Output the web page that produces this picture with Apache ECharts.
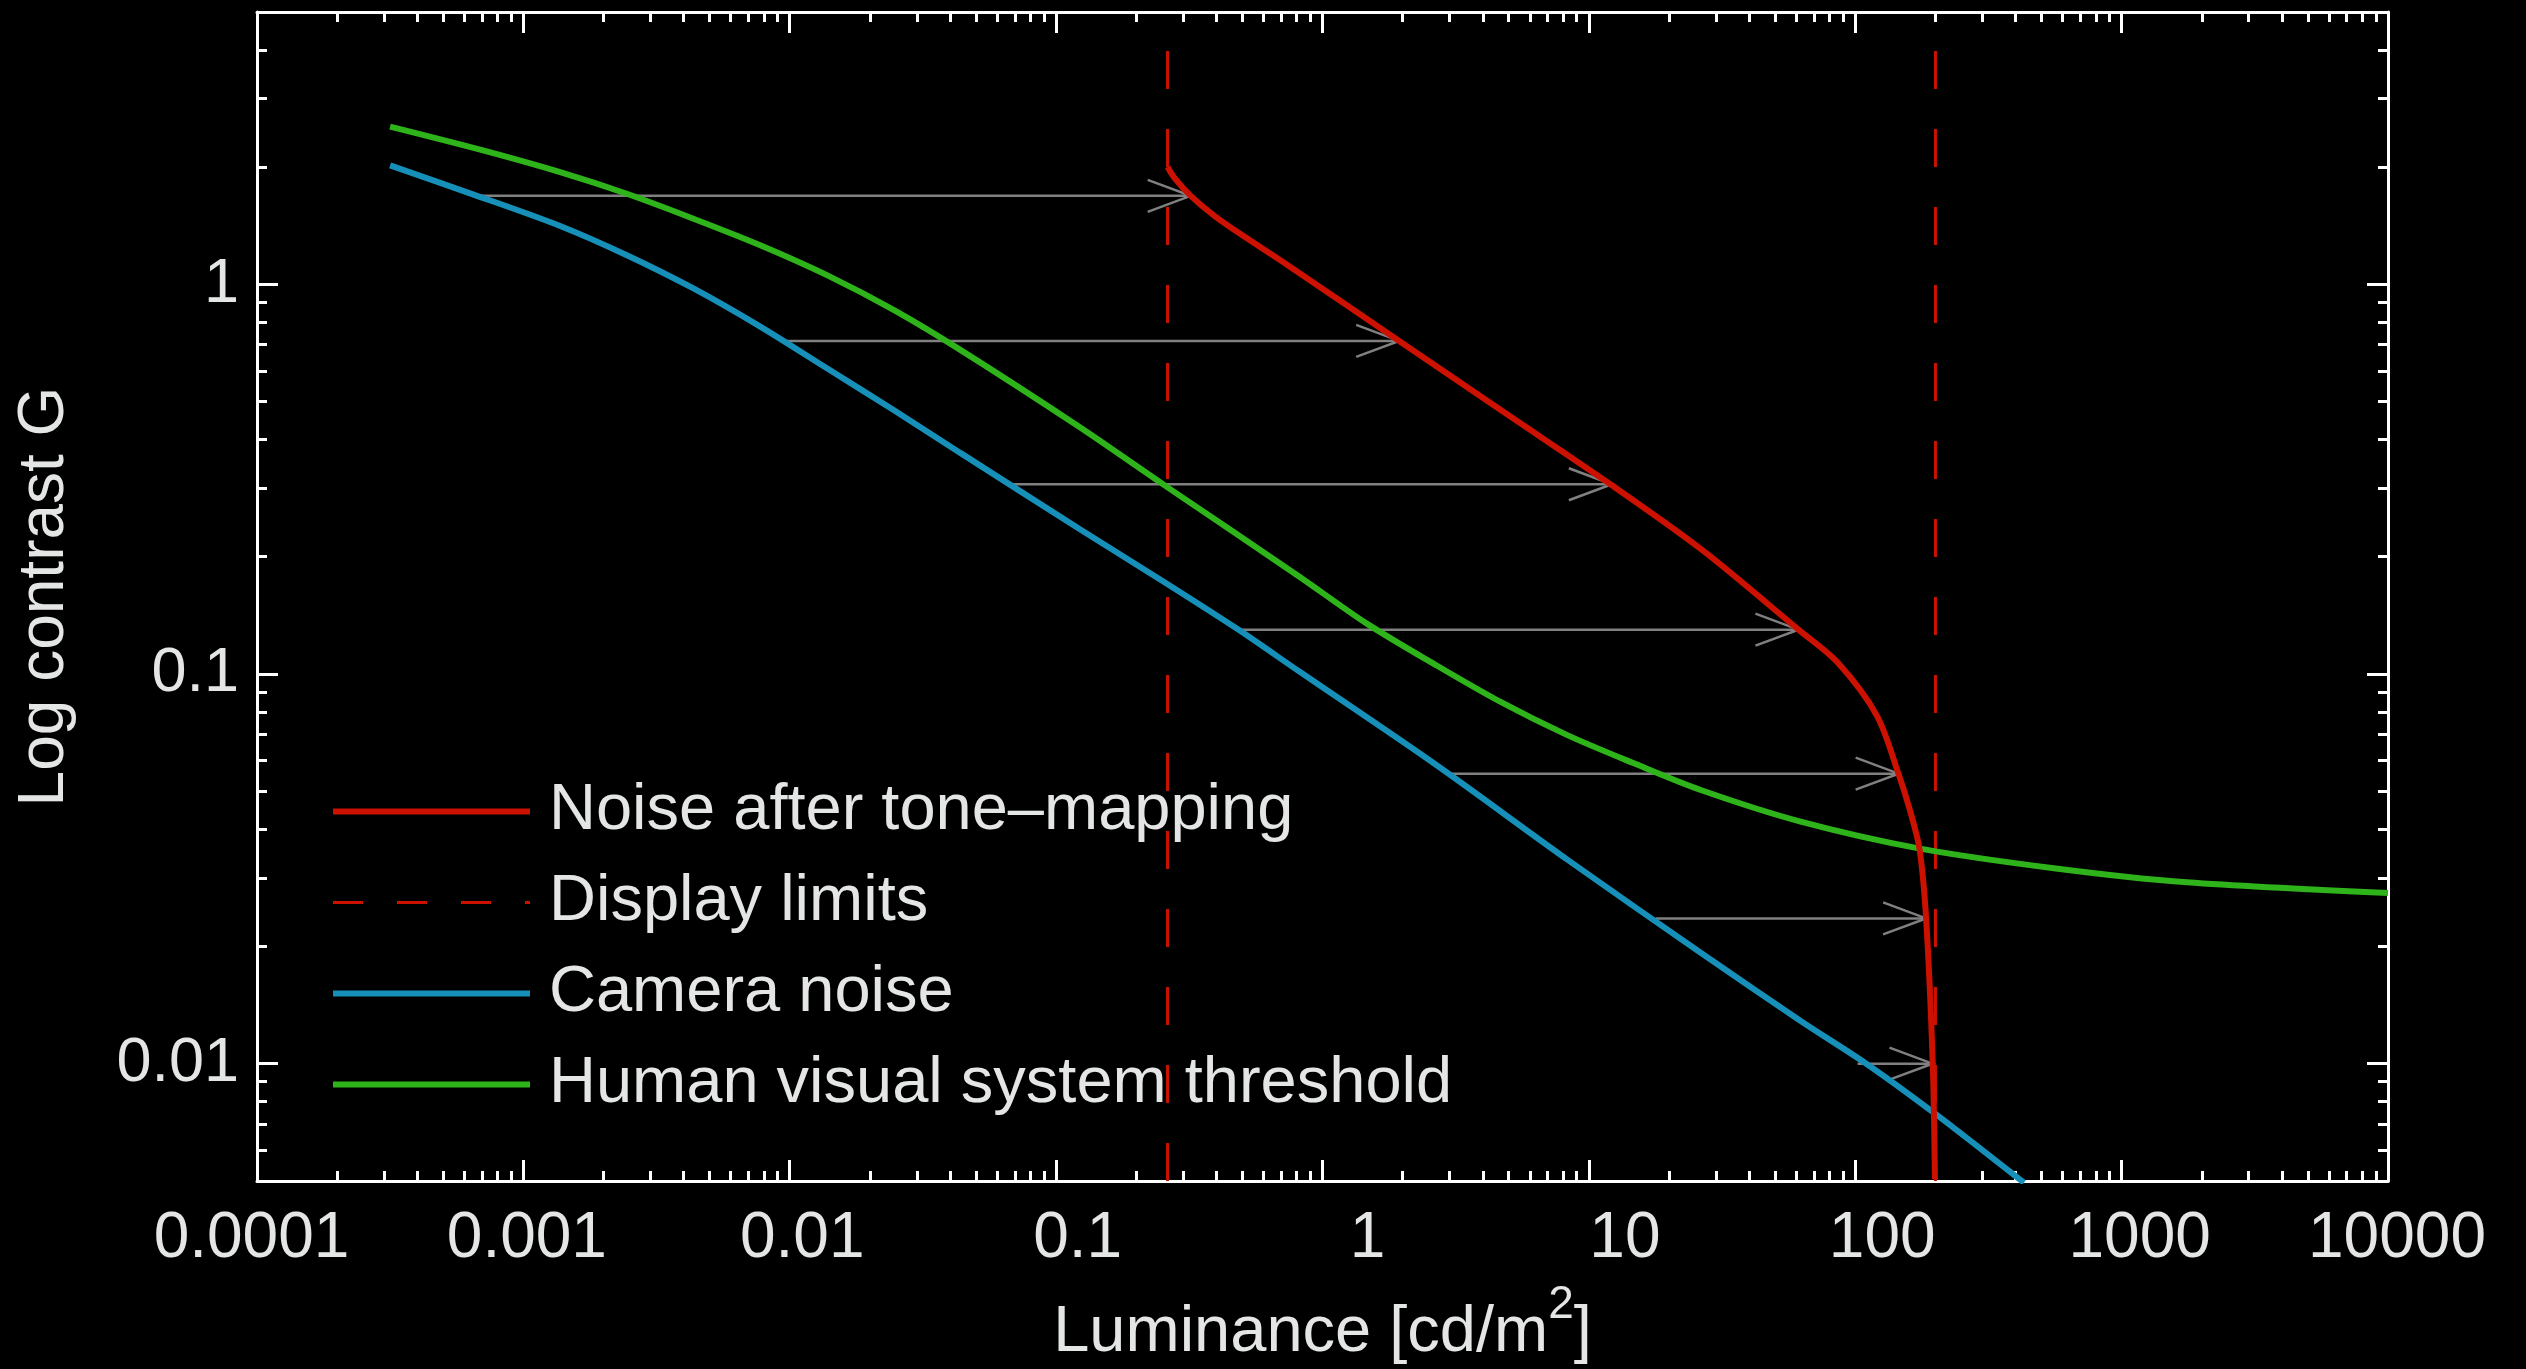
<!DOCTYPE html>
<html>
<head>
<meta charset="utf-8">
<script src="https://cdn.jsdelivr.net/npm/echarts@6.0.0/dist/echarts.min.js"></script>
<style>
html,body{margin:0;padding:0;background:#000;}
#chart{width:2526px;height:1369px;}
</style>
</head>
<body>
<div id="chart"></div>
<script>
// ---------- data ----------
const xTickValues = [0.0001, 0.001, 0.01, 0.1, 1, 10, 100, 1000, 10000];
const xTickLabels = ['0.0001', '0.001', '0.01', '0.1', '1', '10', '100', '1000', '10000'];
const yTickValues = [0.01, 0.1, 1];
const yTickLabels = ['0.01', '0.1', '1'];

const seriesNames = ['Noise after tone\u2013mapping', 'Display limits', 'Camera noise', 'Human visual system threshold'];

const displayLimits = [0.262, 200];

// [luminance, contrast]
const cameraNoise = [
  [3.16e-4, 2.02], [6.5e-4, 1.70], [1.374e-3, 1.412], [2.446e-3, 1.188], [4.35e-3, 0.976],
  [7.75e-3, 0.779], [0.01379, 0.609], [0.02454, 0.476], [0.04369, 0.3694], [0.122, 0.236],
  [0.257, 0.1715], [0.475, 0.131], [0.827, 0.101], [2.618, 0.059], [8.30, 0.0334],
  [26.3, 0.01926], [62.4, 0.01287], [110, 0.0100], [200, 0.00743], [411, 0.00507], [430, 0.00495]
];

const hvsThreshold = [
  [3.16e-4, 2.54], [7.0e-4, 2.21], [1.374e-3, 1.941], [2.446e-3, 1.708], [4.35e-3, 1.474],
  [7.75e-3, 1.26], [0.01379, 1.056], [0.02454, 0.86], [0.04369, 0.679], [0.122, 0.431],
  [0.257, 0.304], [0.827, 0.177], [1.472, 0.1345], [2.618, 0.1062], [4.662, 0.0848],
  [8.30, 0.0697], [14.76, 0.059], [26.3, 0.0504], [62.4, 0.0418], [173, 0.0357],
  [566, 0.0317], [1758, 0.0292], [10000, 0.0274]
];

const toneMappedNoise = [
  [0.262, 2.00], [0.279, 1.87], [0.320, 1.687], [0.395, 1.495], [0.507, 1.328],
  [0.755, 1.11], [1.94, 0.716], [4.73, 0.473], [12.2, 0.305], [26.9, 0.207],
  [61.2, 0.130], [85.9, 0.107], [120.8, 0.078], [145.5, 0.0553], [160.3, 0.0448],
  [174.2, 0.0356], [184.5, 0.0236], [195.4, 0.0100], [199.1, 0.00505]
];

// mapping arrows: camera luminance -> display luminance at a contrast level
const arrowFrom  = [6.47e-4, 9.2e-3, 0.0667, 0.482, 2.99, 17.8, 102];
const arrowTo    = [0.320, 1.94, 12.2, 61.2, 145.5, 184.5, 195];
const arrowLevel = [1.687, 0.716, 0.307, 0.130, 0.0555, 0.0236, 0.0100];

// ---------- styling ----------
const FONT = '"Liberation Sans", Arial, Helvetica, sans-serif';
const TXT = '#e3e6e4';
const RED = '#cc1100', BLUE = '#1790b9', GREEN = '#2eb31a', GREY = '#808080';

const X_MIN = 0.0001, X_MAX = 10000, Y_MIN = 0.005, Y_MAX = 5;

function minorTicks(majors, lo, hi) {
  const out = [];
  majors.forEach(d => { for (let m = 2; m <= 9; m++) { const v = +(d * m).toPrecision(6); if (v > lo && v < hi) out.push(v); } });
  return out;
}
const xMinor = minorTicks(xTickValues, X_MIN, X_MAX);
const yMinor = minorTicks([0.001, 0.01, 0.1, 1], Y_MIN, Y_MAX);

// rich styles for x labels (reference labels sit slightly right of their ticks)
const xRich = {};
xTickLabels.forEach((t, i) => {
  const s = 54 - 9 * t.length - (t.indexOf('.') >= 0 ? 5.5 : 0);
  xRich['s' + i] = {
    fontSize: 64, lineHeight: 64, fontFamily: FONT, color: TXT,
    padding: s >= 0 ? [0, 0, 0, 2 * s] : [0, -2 * s, 0, 0]
  };
});

const axisLineStyle = { show: true, lineStyle: { color: '#ffffff', width: 3 } };

function xAxisDef(position, major, withLabels) {
  return {
    type: 'log', logBase: 10, min: X_MIN, max: X_MAX, position: position, gridIndex: 0,
    axisLine: major ? axisLineStyle : { show: false },
    axisTick: { show: true, inside: true, length: major ? 21 : 10,
      lineStyle: { color: '#ffffff', width: 3 },
      customValues: major ? xTickValues : xMinor },
    axisLabel: withLabels ? {
      show: true, customValues: xTickValues, margin: 26,
      formatter: function (v) { const i = Math.round(Math.log10(v)) + 4; return '{s' + i + '|' + xTickLabels[i] + '}'; },
      rich: xRich
    } : { show: false },
    splitLine: { show: false }, minorTick: { show: false }, minorSplitLine: { show: false }
  };
}
function yAxisDef(position, major, withLabels) {
  return {
    type: 'log', logBase: 10, min: Y_MIN, max: Y_MAX, position: position, gridIndex: 0,
    axisLine: major ? axisLineStyle : { show: false },
    axisTick: { show: true, inside: true, length: major ? 21 : 10,
      lineStyle: { color: '#ffffff', width: 3 },
      customValues: major ? yTickValues : yMinor },
    axisLabel: withLabels ? {
      show: true, customValues: yTickValues, margin: 18,
      fontSize: 63, lineHeight: 63, fontFamily: FONT, color: TXT,
      formatter: function (v) { const i = Math.round(Math.log10(v)) + 2; return yTickLabels[i]; }
    } : { show: false },
    splitLine: { show: false }, minorTick: { show: false }, minorSplitLine: { show: false }
  };
}

const xAxes = [xAxisDef('bottom', true, true), xAxisDef('bottom', false, false), xAxisDef('top', true, false), xAxisDef('top', false, false)];
const yAxes = [yAxisDef('left', true, true), yAxisDef('left', false, false), yAxisDef('right', true, false), yAxisDef('right', false, false)];

xAxes[0].name = '{a|Luminance [cd/m}{b|2}{a|]}';
xAxes[0].nameLocation = 'middle';
xAxes[0].nameGap = 120;
xAxes[0].nameTextStyle = {
  rich: {
    a: { fontSize: 65, lineHeight: 65, fontFamily: FONT, color: TXT, verticalAlign: 'middle' },
    b: { fontSize: 46, lineHeight: 46, fontFamily: FONT, color: TXT, verticalAlign: 'middle', padding: [0, 0, 56, 0] }
  }
};
yAxes[0].name = 'Log contrast G';
yAxes[0].nameLocation = 'middle';
yAxes[0].nameGap = 180;
yAxes[0].nameTextStyle = { fontSize: 64, lineHeight: 64, fontFamily: FONT, color: TXT };

const lineCommon = { type: 'line', showSymbol: false, symbol: 'none', clip: true, silent: true,
  xAxisIndex: 0, yAxisIndex: 0, emphasis: { disabled: true }, animation: false };

const arrowData = arrowFrom.map((x0, i) => [x0, arrowTo[i], arrowLevel[i]]);

const option = {
  backgroundColor: '#000000',
  animation: false,
  grid: { left: 257, right: 138, top: 12, bottom: 188, containLabel: false, outerBoundsMode: 'none' },
  xAxis: xAxes,
  yAxis: yAxes,
  legend: {
    orient: 'vertical', left: 330, top: 779, padding: 0,
    itemWidth: 197, itemHeight: 20, itemGap: 26,
    data: [
      { name: seriesNames[0], lineStyle: { width: 6, color: RED } },
      { name: seriesNames[1], lineStyle: { width: 3, color: RED, type: [30, 34] } },
      { name: seriesNames[2], lineStyle: { width: 6, color: BLUE } },
      { name: seriesNames[3], lineStyle: { width: 6, color: GREEN } }
    ],
    selectedMode: false,
    itemStyle: { opacity: 0, color: 'rgba(0,0,0,0)', borderWidth: 0 },
    textStyle: { fontSize: 65, lineHeight: 64, fontFamily: FONT, color: TXT, padding: [0, 0, 0, 14] }
  },
  series: [
    Object.assign({}, lineCommon, { name: seriesNames[1], data: [[displayLimits[0], Y_MIN], [displayLimits[0], Y_MAX]],
      lineStyle: { color: RED, width: 3, type: [38, 40] }, itemStyle: { color: RED } }),
    Object.assign({}, lineCommon, { name: seriesNames[1], data: [[displayLimits[1], Y_MIN], [displayLimits[1], Y_MAX]],
      lineStyle: { color: RED, width: 3, type: [38, 40] }, itemStyle: { color: RED } }),
    Object.assign({}, lineCommon, { name: seriesNames[2], data: cameraNoise, smooth: 0.3,
      lineStyle: { color: BLUE, width: 6 }, itemStyle: { color: BLUE } }),
    Object.assign({}, lineCommon, { name: seriesNames[3], data: hvsThreshold, smooth: 0.3,
      lineStyle: { color: GREEN, width: 6 }, itemStyle: { color: GREEN } }),
    {
      type: 'custom', silent: true, xAxisIndex: 0, yAxisIndex: 0, clip: true,
      data: arrowData,
      encode: { x: [0, 1], y: 2 },
      renderItem: function (params, api) {
        const p0 = api.coord([api.value(0), api.value(2)]);
        const p1 = api.coord([api.value(1), api.value(2)]);
        return {
          type: 'group',
          children: [
            { type: 'line', shape: { x1: p0[0], y1: p0[1], x2: p1[0], y2: p1[1] },
              style: { stroke: GREY, lineWidth: 2.5 } },
            { type: 'polyline', shape: { points: [[p1[0] - 43, p1[1] - 16], [p1[0], p1[1]], [p1[0] - 43, p1[1] + 16]] },
              style: { stroke: GREY, lineWidth: 2.5, fill: null } }
          ]
        };
      }
    },
    Object.assign({}, lineCommon, { name: seriesNames[0], data: toneMappedNoise, smooth: 0.3,
      lineStyle: { color: RED, width: 6 }, itemStyle: { color: RED } })
  ]
};

const chart = echarts.init(document.getElementById('chart'), null, { renderer: 'canvas' });
chart.setOption(option);
</script>
</body>
</html>
